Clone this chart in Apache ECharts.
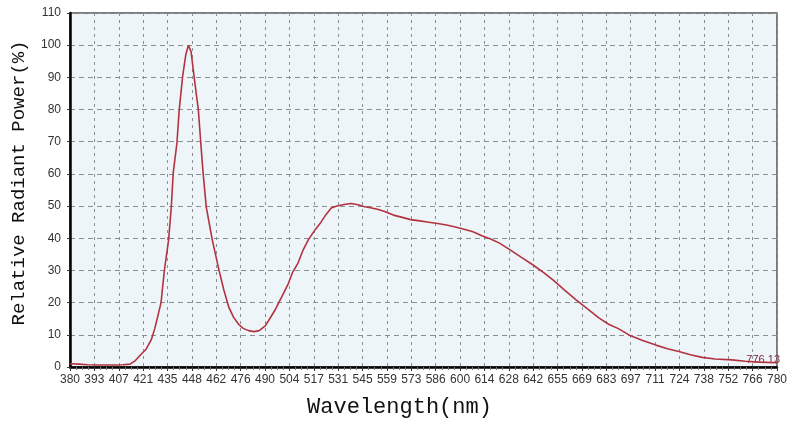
<!DOCTYPE html>
<html>
<head>
<meta charset="utf-8">
<script src="https://cdn.jsdelivr.net/npm/echarts@6/dist/echarts.min.js"></script>
<style>
html,body{margin:0;padding:0;background:#ffffff;}
#chart{width:790px;height:425px;}
</style>
</head>
<body>
<div id="chart"></div>
<script>
// Wavelength (nm) samples
var wavelengths = [380,385,390,395,400,405,410,414,417,420,423,426,428,430,431.5,433.4,435.8,437.3,438.4,440.5,441.8,443.7,445.5,447,448.5,450.2,452.6,454,455.3,457.1,460.5,464.3,467,469.9,472.5,475.5,478,481,484,487,490.5,493,496,500,503.6,506,509,512,514.8,518.6,522,525,527.8,531,535,539,543,546.7,550,554,558,563,568,572.7,578,583,588,593,598,603,608,613,618,623,629,635,642,648,653.4,660,666.5,673,679.4,685,690,696.5,704,711.5,718,724.5,731,737.7,745,754.5,762,770,780];
// Relative radiant power (%)
var power = [1.0,0.9,0.7,0.6,0.6,0.6,0.7,0.9,2.0,3.8,5.5,8.5,12,16.5,20,30,39.5,49.7,60.3,69.6,80,90.2,97,100,98,90.2,80,69.6,60.3,49.7,39.5,30.1,24,18.5,15.5,13.2,12.0,11.3,11.0,11.3,12.8,15,17.7,22,26,29.5,32.3,36.5,39.5,42.6,45,47.5,49.4,50,50.5,50.8,50.4,49.8,49.5,49,48.3,47.2,46.5,45.8,45.4,45,44.6,44.1,43.5,42.8,42,40.8,39.8,38.5,36.4,34.2,31.7,29.3,27,23.8,20.8,18,15.2,13.2,12,9.9,8.2,6.8,5.7,4.8,3.8,3.0,2.5,2.2,1.8,1.5,1.3];
// X tick labels
var xTickLabels = ["380","393","407","421","435","448","462","476","490","504","517","531","545","559","573","586","600","614","628","642","655","669","683","697","711","724","738","752","766","780"];
var xMin = 380, xMax = 780;
var annotation = "776.13";

var xStep = (xMax - xMin) / (xTickLabels.length - 1);
var data = wavelengths.map(function (w, i) { return [w, power[i]]; });

var chart = echarts.init(document.getElementById('chart'));
chart.setOption({
  animation: false,
  backgroundColor: '#ffffff',
  grid: {
    left: 70, right: 8, top: 13, bottom: 58,
    show: true,
    backgroundColor: '#eef5f9',
    borderColor: '#555555',
    borderWidth: 1.5
  },
  xAxis: {
    type: 'value',
    min: xMin, max: xMax,
    interval: xStep,
    name: 'Wavelength(nm)',
    nameLocation: 'middle',
    nameGap: 29,
    nameTextStyle: { fontFamily: 'Liberation Mono', fontSize: 22, color: '#111', padding: [0, 48, 0, 0] },
    axisLine: { show: true, onZero: false, lineStyle: { color: '#000', width: 2.5 } },
    axisTick: { show: true, length: 4, lineStyle: { color: '#333' } },
    minorTick: { show: true, splitNumber: 4, length: 3, lineStyle: { color: '#777' } },
    axisLabel: {
      fontFamily: 'Liberation Sans', fontSize: 12, color: '#333', margin: 7,
      formatter: function (v) {
        var idx = Math.round((v - xMin) / xStep);
        return xTickLabels[idx] !== undefined ? xTickLabels[idx] : '';
      }
    },
    splitLine: { show: true, lineStyle: { color: '#8a8f94', type: [3, 4], width: 1 } }
  },
  yAxis: {
    type: 'value',
    min: 0, max: 110, interval: 10,
    name: 'Relative Radiant Power(%)',
    nameLocation: 'middle',
    nameGap: 42,
    nameRotate: 90,
    nameTextStyle: { fontFamily: 'Liberation Mono', fontSize: 19, color: '#111', padding: [0, 0, 0, 14] },
    axisLine: { show: true, lineStyle: { color: '#000', width: 2.5 } },
    axisTick: { show: true, length: 3, lineStyle: { color: '#333' } },
    axisLabel: { fontFamily: 'Liberation Sans', fontSize: 12, color: '#333', margin: 9 },
    splitLine: { show: true, lineStyle: { color: '#8a8f94', type: [5, 4], width: 1 } }
  },
  series: [{
    type: 'line',
    data: data,
    showSymbol: false,
    smooth: false,
    lineStyle: { color: '#b3323f', width: 1.6 },
    z: 3
  }],
  graphic: [{
    type: 'text',
    right: 10,
    top: 354,
    style: { text: annotation, fontFamily: 'Liberation Sans', fontSize: 11, fill: '#7a2648' }
  }]
});
</script>
</body>
</html>
